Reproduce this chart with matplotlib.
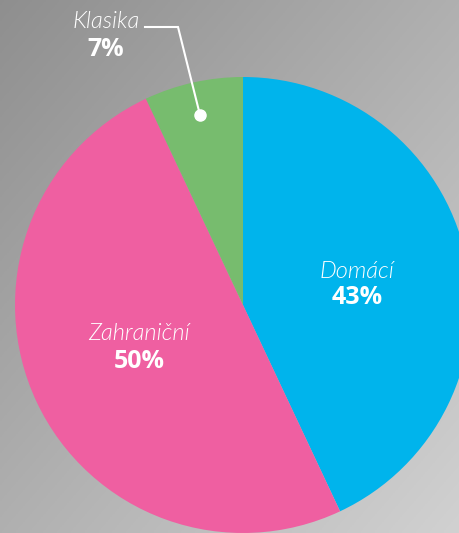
import numpy as np
import matplotlib
matplotlib.use("Agg")
import matplotlib.pyplot as plt

# data
labels = ["Domácí", "Zahraniční", "Klasika"]
values = [43, 50, 7]
colors = ["#00b4ec", "#ef5fa1", "#77bc6e"]

W, H = 460, 533

def py(y):  # pixel row -> data y
    return H - y

fig = plt.figure(figsize=(W / 100, H / 100), dpi=100)
ax = fig.add_axes([0, 0, 1, 1])

# grey stone background (simple gradient, lighter towards bottom right)
gx, gy = np.meshgrid(np.linspace(0, 1, 200), np.linspace(0, 1, 200))
shade = 0.56 + 0.26 * (0.5 * gx + 0.5 * gy)
bg = np.dstack([shade, shade, shade])
ax.imshow(bg, extent=[0, W, 0, H], origin="upper", zorder=0, aspect="auto")

ax.pie(values, colors=colors, startangle=90, counterclock=False,
       center=(243, py(305)), radius=228, frame=True,
       wedgeprops=dict(linewidth=0))
ax.set_xlim(0, W)
ax.set_ylim(0, H)
ax.set_aspect("equal")
ax.axis("off")

light = dict(family=["Lato", "DejaVu Sans"], fontweight=300, style="italic",
             color="white", ha="center", va="center", fontsize=17)
bold = dict(family=["Open Sans", "DejaVu Sans"], fontweight="bold",
            color="white", ha="center", va="center", fontsize=18)

pos = {"Domácí": (357, 271), "Zahraniční": (139, 334), "Klasika": (106, 22)}
for lab, v in zip(labels, values):
    x, y = pos[lab]
    ax.text(x, py(y), lab, **light)
    ax.text(x, py(y + 27), f"{v}%", **bold)

# leader line for Klasika
ax.plot([145, 178, 200], [py(27), py(27), py(115)], color="white", lw=1.5,
        solid_joinstyle="miter", zorder=5)
ax.plot(200, py(115), "o", color="white", ms=8, zorder=6)

fig.savefig("out.png", dpi=100)
